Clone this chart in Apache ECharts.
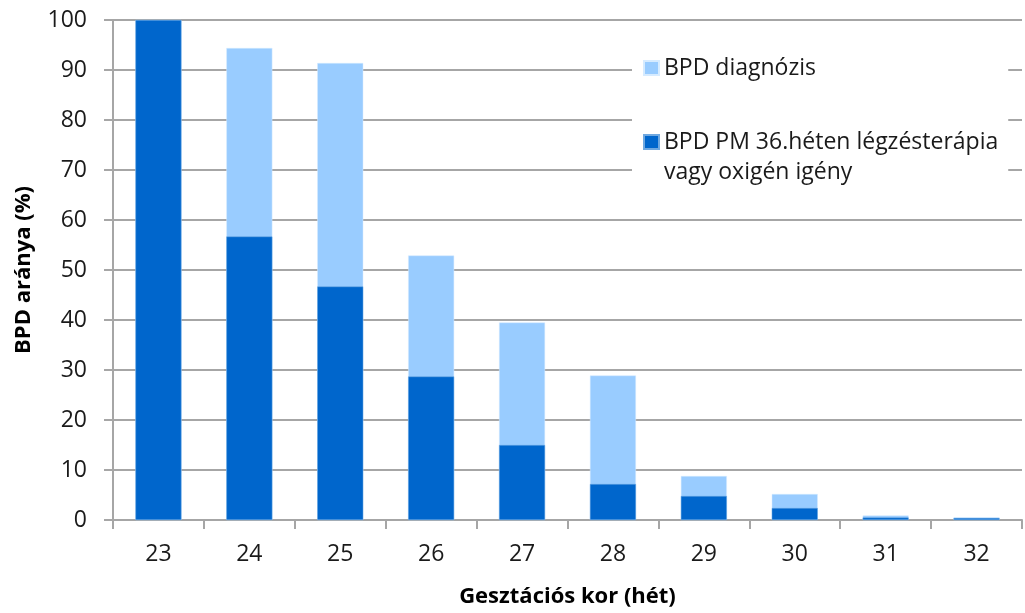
<!DOCTYPE html>
<html lang="hu">
<head>
    <meta charset="UTF-8">
    <title>BPD arány</title>
    <script src="https://cdn.jsdelivr.net/npm/echarts@6/dist/echarts.min.js"></script>
    <style>
        * { margin: 0; padding: 0 }
        html, body { height: 100%; background: #fff; }
    </style>
</head>
<body>
    <div id="main" style="width:1025px;height:613px"></div>
    <script>
        // gestational weeks
        var weeks = ['23', '24', '25', '26', '27', '28', '29', '30', '31', '32'];
        // BPD diagnosis (%)
        var diagnosis = [100, 94.4, 91.4, 52.9, 39.5, 28.9, 8.8, 5.2, 0.9, 0.5];
        // BPD at PM 36 weeks, respiratory therapy or oxygen (%)
        var pm36 = [100, 56.7, 46.7, 28.7, 15, 7.2, 4.8, 2.4, 0.5, 0.4];

        var nameDiag = 'BPD diagnózis';
        var namePm = 'BPD PM 36.héten légzésterápia vagy oxigén igény';

        var font = 'Open Sans, Liberation Sans, sans-serif';

        echarts.init(document.getElementById('main')).setOption({
            animation: false,
            grid: { left: 113, right: 3, top: 20, bottom: 92 },
            legend: {
                orient: 'vertical',
                left: 632,
                top: 46,
                itemWidth: 15,
                itemHeight: 14,
                itemGap: 14,
                itemTextGap: 7,
                padding: [7, 10, 6, 11],
                backgroundColor: '#fff',
                icon: 'rect',
                textStyle: { fontFamily: font, fontSize: 23, color: '#1a1a1a', lineHeight: 30 },
                // blank first line keeps the icon level with the first text line
                formatter: function (name) {
                    return name === namePm
                        ? ' \nBPD PM 36.héten légzésterápia\nvagy oxigén igény'
                        : name;
                },
                data: [nameDiag, namePm]
            },
            xAxis: {
                type: 'category',
                data: weeks,
                name: 'Gesztációs kor (hét)',
                nameLocation: 'middle',
                nameGap: 66,
                nameTextStyle: { fontFamily: font, fontSize: 22, fontWeight: 'bold', color: '#000' },
                axisLine: { lineStyle: { color: '#a6a6a6', width: 2 } },
                axisTick: { show: true, length: 9, lineStyle: { color: '#a6a6a6', width: 2 } },
                axisLabel: { fontFamily: font, fontSize: 23, color: '#1a1a1a', margin: 23 }
            },
            yAxis: {
                type: 'value',
                min: 0,
                max: 100,
                interval: 10,
                name: 'BPD aránya (%)',
                nameLocation: 'middle',
                nameGap: 78,
                nameTextStyle: { fontFamily: font, fontSize: 22, fontWeight: 'bold', color: '#000' },
                axisLine: { show: true, lineStyle: { color: '#a6a6a6', width: 2 } },
                axisTick: { show: true, length: 9, lineStyle: { color: '#a6a6a6', width: 2 } },
                axisLabel: { fontFamily: font, fontSize: 23, color: '#1a1a1a', margin: 26 },
                splitLine: { lineStyle: { color: '#a6a6a6', width: 2 } }
            },
            series: [
                {
                    name: nameDiag,
                    type: 'bar',
                    data: diagnosis,
                    barWidth: 46,
                    barGap: '-100%',
                    itemStyle: { color: '#99ccff', borderColor: '#d6ebff', borderWidth: 0.5 }
                },
                {
                    name: namePm,
                    type: 'bar',
                    data: pm36,
                    barWidth: 46,
                    barGap: '-100%',
                    itemStyle: { color: '#0066cc', borderColor: '#6fa8e0', borderWidth: 0.5 }
                }
            ]
        });
    </script>
</body>
</html>
